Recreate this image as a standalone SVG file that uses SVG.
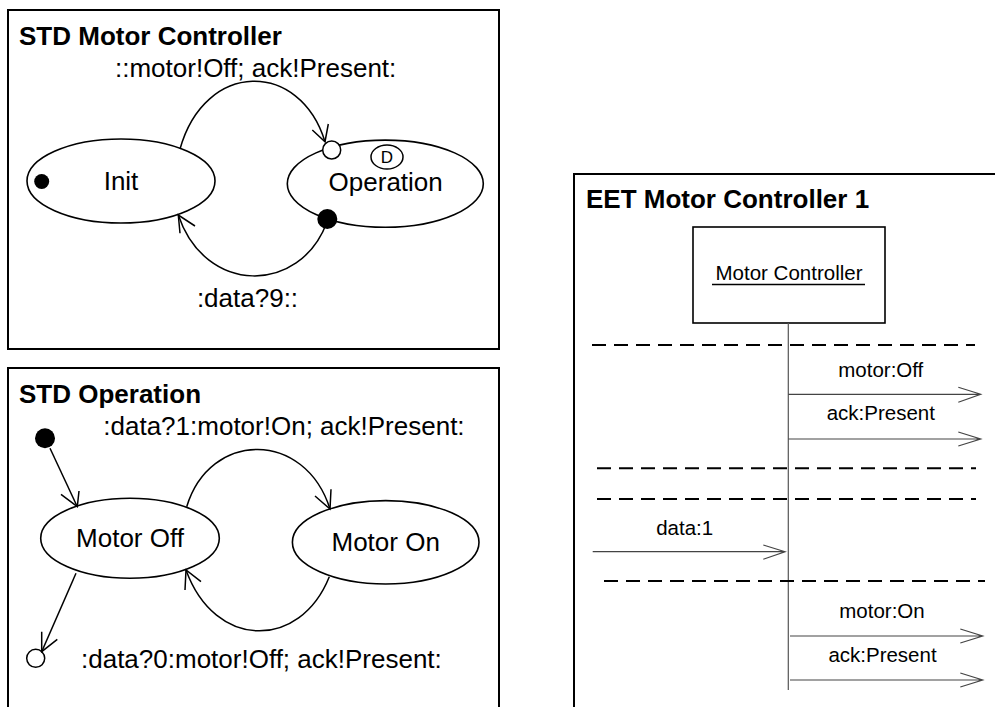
<svg xmlns="http://www.w3.org/2000/svg" width="995" height="707" viewBox="0 0 995 707">
<style>
.frame{fill:none;stroke:#000;stroke-width:2}
.st{fill:#fff;stroke:#000;stroke-width:1.6}
.title{font-family:"Liberation Sans",Arial,sans-serif;font-weight:bold;font-size:26px;fill:#000}
.lbl{font-family:"Liberation Sans",Arial,sans-serif;font-size:26px;fill:#000}
.sm{font-family:"Liberation Sans",Arial,sans-serif;font-size:20.5px;fill:#000}
.mid{text-anchor:middle}
.edge{fill:none;stroke:#000;stroke-width:1.5}
.msg{fill:none;stroke:#444;stroke-width:1.2}
.dash{fill:none;stroke:#000;stroke-width:2;stroke-dasharray:14 8}
</style>
<rect width="995" height="707" fill="#fff"/>

<!-- STD Motor Controller -->
<g id="std-motor-controller">
<rect class="frame" x="8" y="10" width="491" height="339"/>
<text class="title" x="19" y="45">STD Motor Controller</text>
</g>
<g id="init">
<ellipse class="st" cx="121" cy="181" rx="94" ry="42"/>
<circle cx="41.7" cy="181.5" r="7.5" fill="#000"/>
<text class="lbl mid" x="121" y="190">Init</text>
</g>
<g id="operation">
<ellipse class="st" cx="385.3" cy="183.7" rx="98" ry="43.6"/>
<ellipse cx="387" cy="157" rx="16" ry="12" fill="#fff" stroke="#000" stroke-width="1.5"/>
<text x="387" y="163" text-anchor="middle" font-family="Liberation Sans,Arial,sans-serif" font-size="17">D</text>
<text class="lbl mid" x="385.7" y="191">Operation</text>
<circle cx="331.7" cy="150" r="9" fill="#fff" stroke="#000" stroke-width="1.5"/>
<circle cx="327.3" cy="219" r="10" fill="#000"/>
</g>

<!-- STD Operation -->
<g id="std-operation">
<rect class="frame" x="8" y="368" width="491" height="360"/>
<text class="title" x="19" y="403">STD Operation</text>
</g>
<g id="initial-dot">
<circle cx="45" cy="438.3" r="10" fill="#000"/>
</g>
<g id="motor-off">
<ellipse class="st" cx="130" cy="538.3" rx="89.3" ry="40"/>
<text class="lbl mid" x="130" y="547">Motor Off</text>
</g>
<g id="motor-on">
<ellipse class="st" cx="385.7" cy="542.3" rx="93.3" ry="41.7"/>
<text class="lbl mid" x="385.7" y="551">Motor On</text>
</g>
<g id="final-circle">
<circle cx="35.7" cy="658.3" r="9" fill="#fff" stroke="#000" stroke-width="1.5"/>
</g>

<!-- EET Motor Controller 1 -->
<g id="eet-motor-controller-1">
<rect class="frame" x="574" y="174" width="500" height="600"/>
<text class="title" x="586" y="208">EET Motor Controller 1</text>
</g>
<g id="motor-controller-object">
<rect x="693" y="227" width="192" height="96" fill="#fff" stroke="#000" stroke-width="1.6"/>
<text class="sm mid" x="789" y="280">Motor Controller</text>
<line x1="712" y1="284.5" x2="865" y2="284.5" stroke="#000" stroke-width="1.3"/>
</g>

<g id="connectors">
<!-- STD Motor Controller transitions -->
<path class="edge" d="M180,149 C205,60 300,60 325,141.7"/>
<path class="edge" d="M312.3,130 L325,141.7 L328.3,124"/>
<path class="edge" d="M327,222 C300,295 205,295 178.3,215"/>
<path class="edge" d="M180,233.3 L178.3,215 L195,226"/>
<!-- STD Operation transitions -->
<path class="edge" d="M50,448.3 L77.3,506.7"/>
<path class="edge" d="M61,494.3 L77.3,506.7 L79,491"/>
<path class="edge" d="M186.7,506.7 C210,430 305,430 330,509"/>
<path class="edge" d="M315,496 L330,509 L331,489.3"/>
<path class="edge" d="M329.3,576.7 C300,650 215,650 186,570"/>
<path class="edge" d="M185,590 L186,570 L201,581.7"/>
<path class="edge" d="M76,573.3 L41.7,651.7"/>
<path class="edge" d="M41.7,631.7 L41.7,651.7 L57.3,639.3"/>
<!-- EET lifeline, separators, messages -->
<line x1="788.3" y1="323" x2="788.3" y2="690" stroke="#555" stroke-width="1.2"/>
<line class="dash" x1="592" y1="345" x2="975" y2="345"/>
<line class="dash" x1="597" y1="468.3" x2="976" y2="468.3"/>
<line class="dash" x1="597" y1="499" x2="976" y2="499"/>
<line class="dash" x1="604" y1="581" x2="985" y2="581"/>
<path class="msg" d="M788.3,394.3 H980.7 M958.3,387.3 L980.7,394.3 L958.3,402.3"/>
<path class="msg" d="M788.3,439 H980.7 M958.3,432 L980.7,439 L958.3,446"/>
<path class="msg" d="M592.7,551.7 H785 M763.3,545 L785,551.7 L763.3,559.3"/>
<path class="msg" d="M790,636 H982.7 M960.3,629 L982.7,636 L960.3,643"/>
<path class="msg" d="M790,680 H982.7 M960.3,673 L982.7,680 L960.3,687"/>
</g>

<g id="labels">
<text class="lbl" x="115" y="76.5">::motor!Off; ack!Present:</text>
<text class="lbl mid" x="247.5" y="306.7">:data?9::</text>
<text class="lbl" x="103.3" y="435">:data?1:motor!On; ack!Present:</text>
<text class="lbl" x="81" y="668.3">:data?0:motor!Off; ack!Present:</text>
<text class="sm mid" x="880.8" y="376.7">motor:Off</text>
<text class="sm mid" x="880.8" y="420">ack:Present</text>
<text class="sm mid" x="684.7" y="535">data:1</text>
<text class="sm mid" x="882" y="618.3">motor:On</text>
<text class="sm mid" x="882.5" y="661.7">ack:Present</text>
</g>
</svg>
